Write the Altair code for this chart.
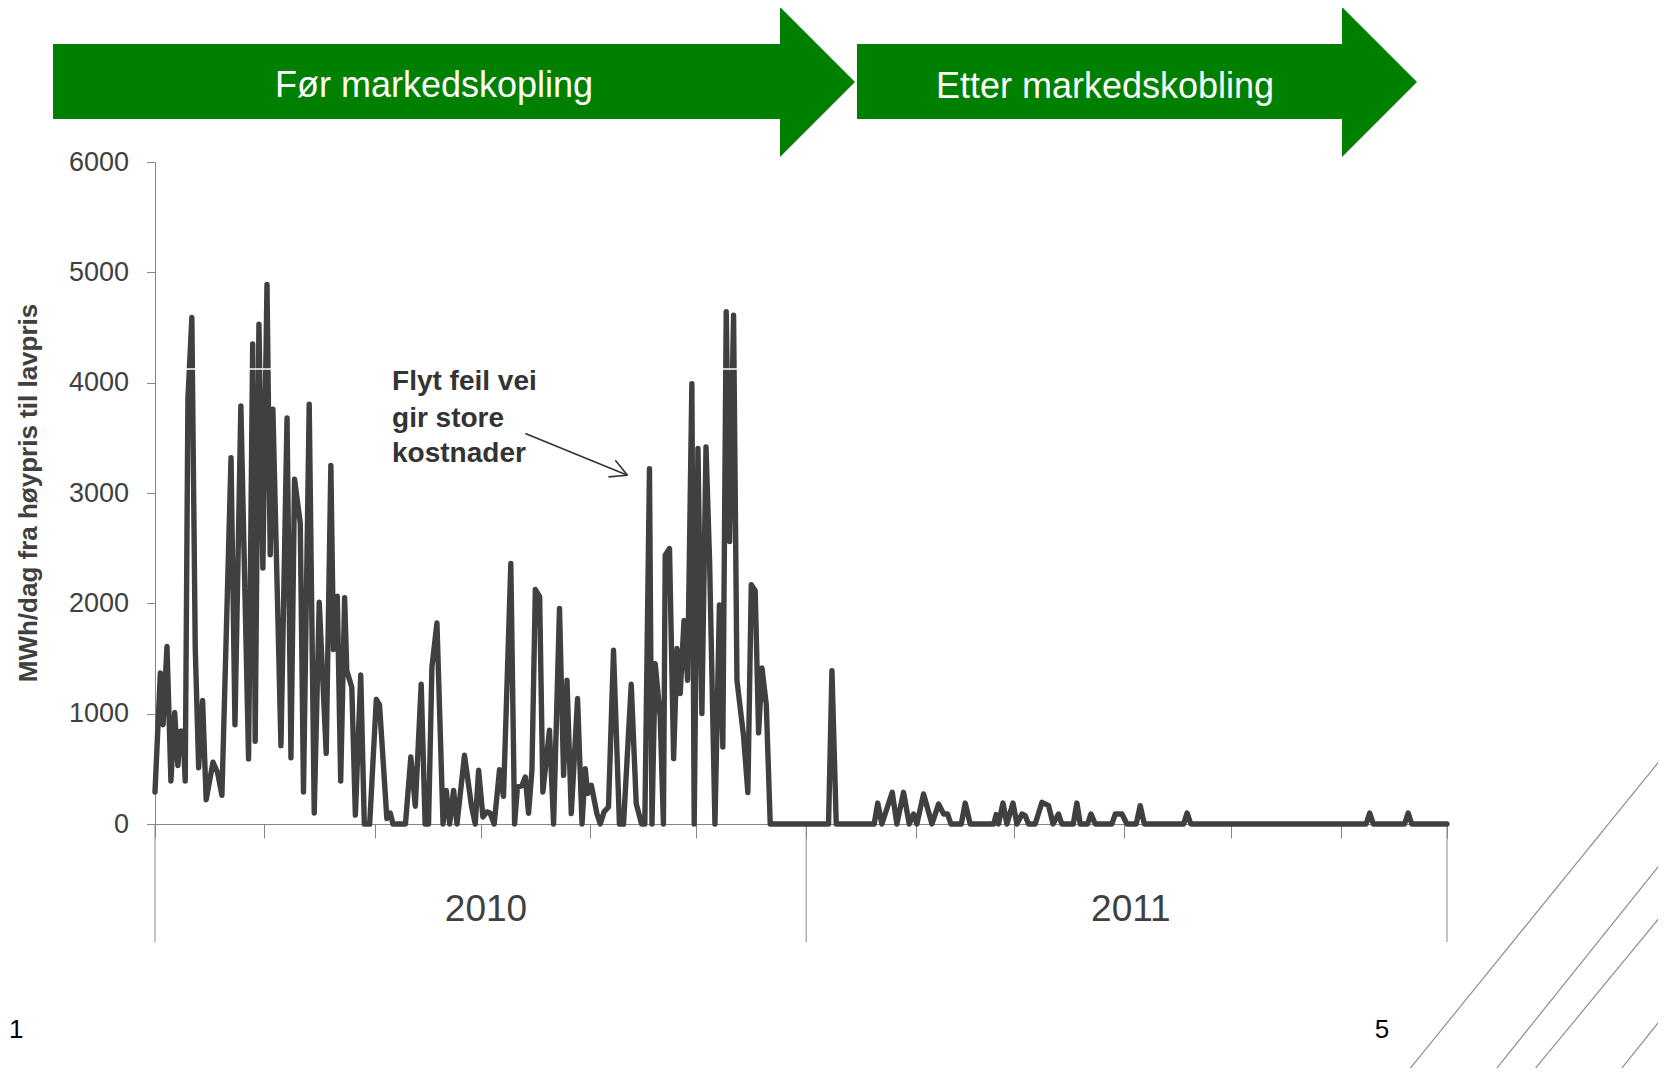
import altair as alt
import pandas as pd

# ---------------- data ----------------
days = [0, 3, 4.5, 6.7, 8.9, 11, 12.8, 14.1, 15.6, 16.9,
        18.4, 20.6, 22.5, 24.4, 26.6, 28.6, 32.4, 35, 37.4, 42.5,
        44.7, 48, 52.3, 54.6, 56, 58.1, 60.3, 62.6, 64.4, 65.9,
        70.4, 73.8, 76, 78, 81.2, 83, 86.2, 89, 91.8, 95.7,
        98.3, 99.8, 101.9, 103.8, 106, 107.2, 110, 112, 115, 117,
        120, 123.7, 125.5, 129.6, 131.5, 133, 140, 143, 145.5, 148.8,
        151, 152.9, 154.8, 157.6, 161, 162.8, 164.7, 166.9, 168.8, 173,
        177, 179, 180.9, 183.3, 185.5, 187.3, 189.6, 192.6, 194.8, 198.9,
        201, 202.6, 205, 207, 208.8, 210.7, 212.6, 215, 216.8, 220.5,
        222.8, 226.1, 228.4, 230.3, 232.7, 236.2, 238.7, 240.5, 241.8, 243.9,
        247, 248.9, 251, 253.5, 256.3, 259.6, 261.9, 266.2, 269, 272,
        273.8, 276.4, 277.8, 279.6, 282.4, 284.2, 285.2, 287.6, 289.9, 291.8,
        293.6, 295.7, 297.7, 300.1, 301.4, 303.5, 305.7, 308, 310, 313,
        315.5, 317.4, 319.3, 321.2, 323.4, 325.3, 329, 331.4, 333.3, 335.5,
        337.4, 339.3, 341.7, 343.9, 376.5, 378.4, 380.8, 402, 404, 406.3,
        412.1, 414.7, 418.4, 421.6, 424, 425.9, 429.6, 434.3, 438, 440.8,
        443, 444.9, 450.7, 452.9, 455.7, 468.8, 470.2, 471.5, 474, 476.2,
        479.6, 481.8, 484.6, 486.4, 488.3, 492, 495.8, 499.5, 502, 505,
        506.9, 513.3, 515.3, 517.2, 521.3, 523.2, 525.6, 534.9, 536.8, 540.5,
        543.3, 548.5, 550.7, 553, 575, 576.9, 579, 677, 679, 681,
        698.5, 700.5, 702.5, 722.2]

mwh = [290, 1370, 900, 1610, 390, 1010, 530, 840, 840, 390,
       3850, 4590, 1590, 510, 1120, 220, 560, 465, 260, 3320,
       900, 3790, 590, 4350, 750, 4530, 2320, 4890, 2440, 3760,
       710, 3680, 600, 3125, 2725, 290, 3805, 100, 2010, 640,
       3250, 1580, 2065, 390, 2050, 1390, 1240, 80, 1350, 0,
       0, 1130, 1080, 50, 100, 0, 0, 607, 160, 1266,
       0, 0, 1423, 1822, 0, 305, 0, 305, 0, 623,
       154, 0, 487, 64, 110, 100, 0, 493, 251, 2361,
       0, 336, 345, 426, 97, 487, 2125, 2060, 290, 850,
       0, 1953, 441, 1303, 94, 1137, 0, 502, 275, 351,
       94, 0, 110, 154, 1575, 0, 0, 1266, 185, 0,
       0, 3220, 0, 1454, 970, 0, 2436, 2497, 593, 1590,
       1182, 1845, 1303, 3991, 0, 3403, 1001, 3418, 2384, 0,
       1986, 698, 4643, 2560, 4612, 1303, 795, 285, 2168, 2114,
       826, 1414, 1080, 0, 0, 1390, 0, 0, 190, 0,
       287, 0, 287, 0, 91, 0, 272, 0, 181, 91,
       91, 0, 0, 190, 0, 0, 85, 0, 190, 0,
       190, 0, 91, 76, 0, 0, 196, 166, 0, 91,
       0, 0, 190, 0, 0, 91, 0, 0, 91, 91,
       0, 0, 166, 0, 0, 100, 0, 0, 100, 0,
       0, 100, 0, 0]

assert len(days) == len(mwh)

x_ticks = [0, 61.2, 122.7, 182.2, 242.9, 302.4, 364.0, 425.3, 480.4, 541.9, 601.4, 662.9, 722.2]
y_ticks = [0, 1000, 2000, 3000, 4000, 5000, 6000]
year_bounds = [0, 364.0, 722.2]
year_labels = ["2010", "2011"]
year_label_days = [185, 545.5]
phase_labels = ["Før markedskopling", "Etter markedskobling"]
note_lines = ["Flyt feil vei", "gir store", "kostnader"]
note_day = [132.5, 132.5, 132.5]
note_value = [4005, 3675, 3356]
arrow_from_day = [207, 257.3, 253.5]
arrow_from_val = [3540, 3297, 3146]
arrow_to_day = [264.1, 264.1, 264.1]
arrow_to_val = [3161, 3161, 3161]
y_title = "MWh/dag fra høypris til lavpris"
page_number = "5"
page_edge = "1"

# ---------------- layout / style ----------------
W, H = 1292, 662
X_DOM = [0, 722.2]
FONT = "Liberation Sans"
DARK = "#404040"
AXIS_GREY = "#868686"
GREEN = "#008000"

series = pd.DataFrame({"day": days, "mwh": mwh})

line = alt.Chart(series).mark_line(
    color=DARK, strokeWidth=5.4, strokeJoin="round", strokeCap="round"
).encode(
    x=alt.X("day:Q", scale=alt.Scale(domain=X_DOM, nice=False, zero=False),
            axis=alt.Axis(values=x_ticks, labels=False, tickSize=14, title=None)),
    y=alt.Y("mwh:Q", scale=alt.Scale(domain=[0, 6000], nice=False),
            axis=alt.Axis(values=y_ticks, tickSize=8.5, labelPadding=18, format="d",
                          labelFontSize=27, title=None)),
)

# thin white line crossing the plot (as in the slide)
white_line = alt.Chart(pd.DataFrame({"k": [0]})).mark_rule(color="white", strokeWidth=1.5).encode(
    x=alt.value(1), x2=alt.value(W), y=alt.value(207)
)

year_rules = alt.Chart(pd.DataFrame({"day": year_bounds})).mark_rule(
    color=AXIS_GREY, strokeWidth=1
).encode(
    x=alt.X("day:Q", title=None), y=alt.value(H), y2=alt.value(H + 118)
)

year_text = alt.Chart(pd.DataFrame({"day": year_label_days, "label": year_labels})).mark_text(
    font=FONT, fontSize=37, color=DARK, baseline="middle", align="center"
).encode(
    x=alt.X("day:Q", title=None), y=alt.value(748), text="label:N"
)

note = alt.Chart(pd.DataFrame({"day": note_day, "v": note_value, "t": note_lines})).mark_text(
    font=FONT, fontSize=28, fontWeight="bold", color="#333333", align="left", baseline="middle"
).encode(
    x=alt.X("day:Q", title=None), y=alt.Y("v:Q", title=None), text="t:N"
)

arrow = alt.Chart(pd.DataFrame({
    "d1": arrow_from_day, "v1": arrow_from_val, "d2": arrow_to_day, "v2": arrow_to_val
})).mark_rule(color="#333333", strokeWidth=1.6).encode(
    x=alt.X("d1:Q", title=None), x2="d2:Q", y=alt.Y("v1:Q", title=None), y2="v2:Q"
)

one = pd.DataFrame({"k": [0]})

path1 = "M-9.693,-0.507L0,-0.507L0,-1L1,0L0,1L0,0.493L-9.693,0.493Z"
path2 = "M-6.467,-0.507L0,-0.507L0,-1L1,0L0,1L0,0.493L-6.467,0.493Z"
arrow1 = alt.Chart(one).mark_point(shape=path1, filled=True, size=22500, color=GREEN,
                                   opacity=1, strokeWidth=0).encode(x=alt.value(625), y=alt.value(-80))
arrow2 = alt.Chart(one).mark_point(shape=path2, filled=True, size=22500, color=GREEN,
                                   opacity=1, strokeWidth=0).encode(x=alt.value(1187), y=alt.value(-80))

phase1 = alt.Chart(pd.DataFrame({"t": [phase_labels[0]]})).mark_text(
    font=FONT, fontSize=36, color="white", align="center", baseline="alphabetic"
).encode(x=alt.value(279), y=alt.value(-65.5), text="t:N")
phase2 = alt.Chart(pd.DataFrame({"t": [phase_labels[1]]})).mark_text(
    font=FONT, fontSize=36, color="white", align="center", baseline="alphabetic"
).encode(x=alt.value(950), y=alt.value(-64.5), text="t:N")

ytitle = alt.Chart(pd.DataFrame({"t": [y_title]})).mark_text(
    font=FONT, fontSize=26, fontWeight="bold", color=DARK, angle=270,
    align="center", baseline="middle"
).encode(x=alt.value(-126), y=alt.value(331), text="t:N")

pnum = alt.Chart(pd.DataFrame({"t": [page_number]})).mark_text(
    font=FONT, fontSize=26, color="black", align="center", baseline="middle"
).encode(x=alt.value(1227), y=alt.value(868), text="t:N")

pedge = alt.Chart(pd.DataFrame({"t": [page_edge]})).mark_text(
    font=FONT, fontSize=26, color="black", align="left", baseline="middle"
).encode(x=alt.value(-146), y=alt.value(868), text="t:N")

deco = []
for (a, b, c, d) in [(1241.7, 923, 1515, 586), (1328.3, 923, 1515, 690),
                     (1366.7, 923, 1515, 743), (1453.3, 923, 1515, 846)]:
    deco.append(alt.Chart(one).mark_rule(color="#8f8f8f", strokeWidth=1.2).encode(
        x=alt.value(a), y=alt.value(b), x2=alt.value(c), y2=alt.value(d)))

chart = alt.layer(
    year_rules, line, white_line, year_text, note, arrow,
    arrow1, arrow2, phase1, phase2, ytitle, pnum, pedge, *deco
).properties(
    width=W, height=H,
    padding={"left": 147, "top": 154, "right": 211, "bottom": 244},
    autosize=alt.AutoSizeParams(type="none"),
    background="white",
).configure_view(stroke=None).configure_axis(
    grid=False, domainColor=AXIS_GREY, tickColor=AXIS_GREY, domainWidth=1, tickWidth=1,
    labelFont=FONT, labelColor=DARK
)

chart.save("out.html", embed_options={"renderer": "svg", "actions": False})
